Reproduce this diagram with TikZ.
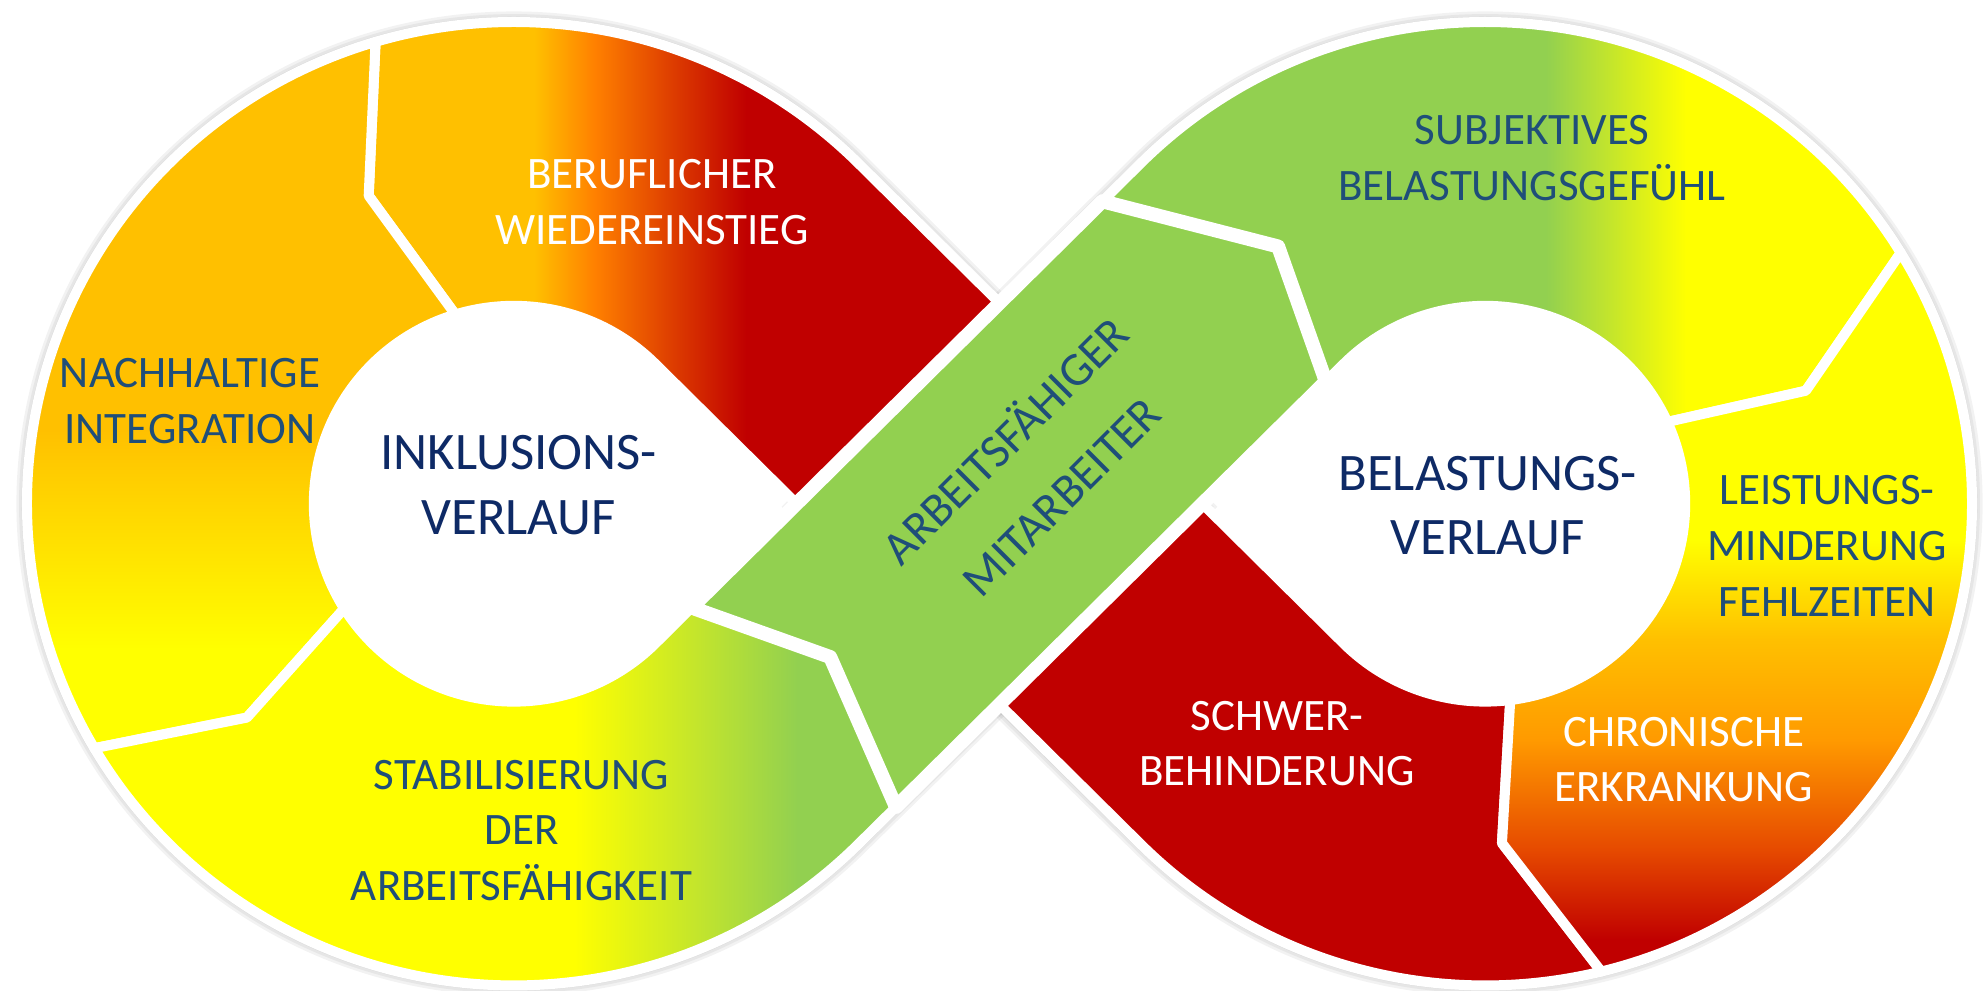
\documentclass[tikz,border=0pt]{standalone}
\usepackage{fontspec}
\setmainfont{Carlito}
\usetikzlibrary{calc}
\definecolor{myred}{HTML}{C00000}
\definecolor{amber}{HTML}{FFC000}
\definecolor{myyellow}{HTML}{FFFF00}
\definecolor{mygreen}{HTML}{92D050}
\definecolor{orangeA}{HTML}{FF8000}
\definecolor{redB}{HTML}{DC3A00}
\definecolor{redorange}{HTML}{E64A00}
\definecolor{orangeB}{HTML}{FF9A00}
\definecolor{labblue}{HTML}{1F4E79}
\definecolor{ctrblue}{HTML}{0E2A66}
\pgfdeclarehorizontalshading{redgrad}{100bp}{color(0bp)=(amber); color(42.1bp)=(amber); color(46.4bp)=(orangeA); color(52.1bp)=(redB); color(57.1bp)=(myred); color(100bp)=(myred)}
\pgfdeclareverticalshading{lgrad}{100bp}{color(0bp)=(myred); color(31.4bp)=(myred); color(40.4bp)=(redorange); color(51.4bp)=(orangeB); color(61.4bp)=(amber); color(71.4bp)=(myyellow); color(100bp)=(myyellow)}
\tikzset{
  seg/.style={draw=white, line width=0.1cm, line join=round},
  lab/.style={font=\fontsize{12.8}{15.9}\selectfont, text=labblue, align=center, inner sep=0pt},
  wlab/.style={lab, text=white},
  ctr/.style={font=\fontsize{15}{18.35}\selectfont, text=ctrblue, align=center, inner sep=0pt},
  shadowline/.style={draw=black, opacity=0.05}
}
\def\pRed{($(C1)+(106.5:482)$) arc[start angle=106.5,end angle=45,radius=482] -- (340.8,-140) arc[start angle=225,end angle=277.2,radius=198] -- ($(C2)+(272.8:340)$) -- ($(C2)+(283.8:482)$) arc[start angle=283.8,end angle=225,radius=482] -- (-340.8,140) arc[start angle=45,end angle=107,radius=198] -- ($(C1)+(115:340)$) -- cycle}
\def\pOrange{($(C1)+(106.5:482)$) arc[start angle=106.5,end angle=210.5,radius=482] -- ($(C1)+(219:340)$) -- ($(C1)+(212:198)$) arc[start angle=212,end angle=107,radius=198] -- ($(C1)+(115:340)$) -- cycle}
\def\pYellow{($(C1)+(210.5:482)$) arc[start angle=210.5,end angle=315,radius=482] -- (-102.5,-303.4) -- (-167.6,-153.4) -- (-304.8,-103.9) -- (-340.8,-140) arc[start angle=315,end angle=212,radius=198] -- ($(C1)+(219:340)$) -- cycle}
\def\pBand{(-102.5,-303.4) -- (323.1,122.3) -- (275.8,257.4) -- (101.8,302.6) -- (-304.8,-103.9) -- (-167.6,-153.4) -- cycle}
\def\pSubj{(101.8,302.6) -- (140,340.8) arc[start angle=135,end angle=31.4,radius=482] -- ($(C2)+(19.6:337)$) -- ($(C2)+(24.4:198)$) arc[start angle=24.4,end angle=135,radius=198] -- (323.1,122.3) -- (275.8,257.4) -- cycle}
\def\pLeist{($(C2)+(31.4:482)$) arc[start angle=31.4,end angle=-76.2,radius=482] -- ($(C2)+(-87.2:340)$) -- ($(C2)+(-82.8:198)$) arc[start angle=-82.8,end angle=24.4,radius=198] -- ($(C2)+(19.6:337)$) -- cycle}
\def\pOutL{($(C1)+(45:482)$) arc[start angle=45,end angle=315,radius=482] -- (200.8,0) -- cycle}
\def\pOutR{($(C2)+(135:482)$) arc[start angle=135,end angle=-135,radius=482] -- (-200.8,0) -- cycle}
\begin{document}
\begin{tikzpicture}[x=0.0101cm, y=0.01cm]
\useasboundingbox (-989.5,-487) rectangle (975.6,504);
\coordinate (C1) at (-480.8,0);
\coordinate (C2) at (480.8,0);
% soft shadow
\foreach \w in {1.5,3,4.5,6} {
  \draw[shadowline, line width=\w pt, shift={(0,-3)}] \pOutL;
  \draw[shadowline, line width=\w pt, shift={(0,-3)}] \pOutR;
}
% red stretch (Beruflicher Wiedereinstieg / Schwerbehinderung)
\fill[myred] \pRed;
\begin{scope}
  \clip \pRed;
  \shade[shading=redgrad] (-700,-500) rectangle (0,500);
\end{scope}
\draw[seg] \pRed;
% orange (Nachhaltige Integration)
\begin{scope}
  \clip \pOrange;
  \fill[amber] (-1000,-500) rectangle (0,500);
  \fill[myyellow] (-1000,-500) rectangle (0,-146);
  \shade[top color=amber, bottom color=myyellow] (-1000,-146) rectangle (0,74);
\end{scope}
\draw[seg] \pOrange;
% yellow (Stabilisierung)
\begin{scope}
  \clip \pYellow;
  \fill[myyellow] (-1000,-500) rectangle (0,500);
  \fill[mygreen] (-200,-500) rectangle (0,500);
  \shade[left color=myyellow, right color=mygreen] (-421,-500) rectangle (-200,500);
\end{scope}
\draw[seg] \pYellow;
% subjektives Belastungsgefuehl
\begin{scope}
  \clip \pSubj;
  \fill[mygreen] (0,-500) rectangle (1000,500);
  \fill[myyellow] (680,-500) rectangle (1000,500);
  \shade[left color=mygreen, right color=myyellow] (541,-500) rectangle (680,500);
\end{scope}
\draw[seg] \pSubj;
% Leistungsminderung / chronische Erkrankung
\begin{scope}
  \clip \pLeist;
  \fill[myyellow] (0,-500) rectangle (1000,500);
  \shade[shading=lgrad] (0,-500) rectangle (1000,0);
\end{scope}
\draw[seg] \pLeist;
% green band on top
\fill[mygreen] \pBand;
\draw[seg, line width=0.14cm] \pBand;
% labels
\node[wlab] (beruf) at (-344,301.5) {BERUFLICHER\\WIEDEREINSTIEG};
\node[lab] (nach) at (-801.4,103) {NACHHALTIGE\\INTEGRATION};
\node[ctr] (inkl) at (-476.2,18.5) {INKLUSIONS-\\VERLAUF};
\node[lab] (stab) at (-473.2,-327) {STABILISIERUNG\\DER\\ARBEITSFÄHIGKEIT};
\node[lab] (subj) at (527.2,345.5) {SUBJEKTIVES\\BELASTUNGSGEFÜHL};
\node[ctr] (bel) at (483.1,-2) {BELASTUNGS-\\VERLAUF};
\node[lab] (leist) at (819.2,-42.5) {LEISTUNGS-\\MINDERUNG\\FEHLZEITEN};
\node[wlab] (chron) at (677.2,-256) {CHRONISCHE\\ERKRANKUNG};
\node[wlab] (schwer) at (274.7,-240) {SCHWER-\\BEHINDERUNG};
\node[lab, rotate=45, font=\fontsize{13.5}{22.5}\selectfont] (arb) at (31.7,37) {ARBEITSFÄHIGER\\MITARBEITER};
\end{tikzpicture}
\end{document}
